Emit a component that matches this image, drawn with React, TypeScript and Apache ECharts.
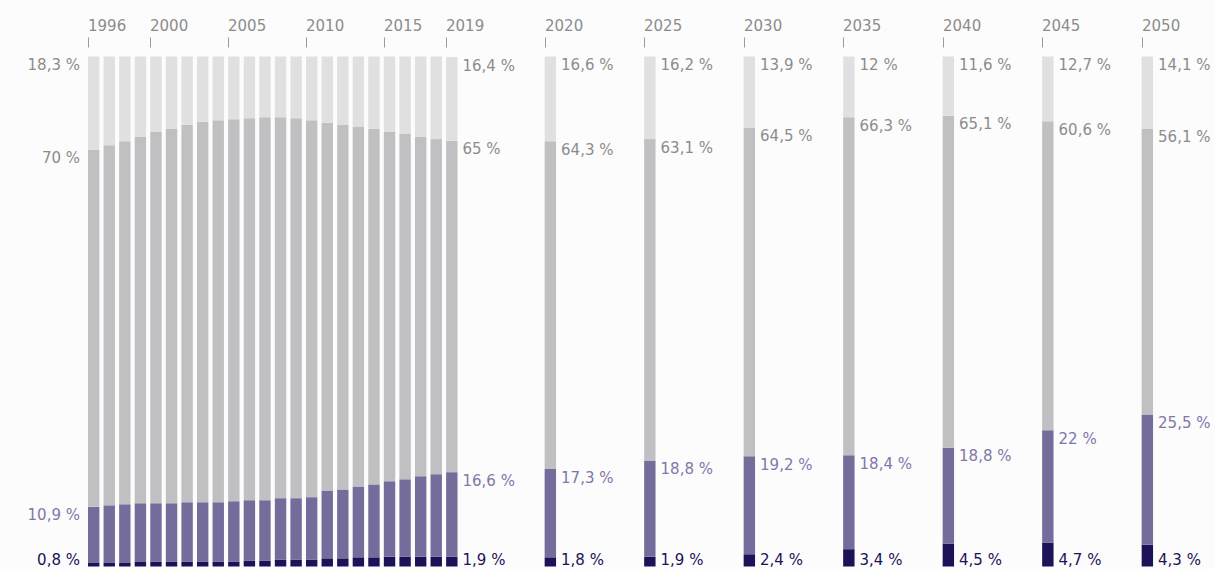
import React, { useEffect, useRef } from "react";
import * as echarts from "echarts";

const histYears = [
  "1996", "1997", "1998", "1999", "2000", "2001", "2002", "2003", "2004", "2005", "2006", "2007",
  "2008", "2009", "2010", "2011", "2012", "2013", "2014", "2015", "2016", "2017", "2018", "2019",
];
const histDark = [0.8, 0.8, 0.8, 1.0, 0.9, 0.9, 0.9, 0.9, 0.9, 0.9, 1.1, 1.1, 1.3, 1.3, 1.3, 1.6, 1.6, 1.8, 1.8, 1.9, 1.9, 1.9, 1.9, 1.9];
const histPurple = [10.9, 11.2, 11.4, 11.4, 11.5, 11.5, 11.7, 11.7, 11.7, 11.9, 11.9, 11.9, 12.1, 12.1, 12.3, 13.3, 13.5, 13.9, 14.3, 14.8, 15.2, 15.8, 16.2, 16.6];
const histGray = [70.0, 70.6, 71.2, 71.8, 72.8, 73.4, 74.0, 74.6, 74.9, 74.9, 74.9, 75.1, 74.7, 74.5, 73.9, 72.1, 71.5, 70.5, 69.7, 68.5, 67.7, 66.5, 65.7, 65.0];
const histLight = [18.3, 17.4, 16.6, 15.8, 14.8, 14.2, 13.4, 12.8, 12.5, 12.3, 12.1, 11.9, 11.9, 12.1, 12.5, 13.0, 13.4, 13.8, 14.2, 14.8, 15.2, 15.8, 16.2, 16.4];

const projYears = ["2020", "2025", "2030", "2035", "2040", "2045", "2050"];
const projDark = [1.8, 1.9, 2.4, 3.4, 4.5, 4.7, 4.3];
const projPurple = [17.3, 18.8, 19.2, 18.4, 18.8, 22, 25.5];
const projGray = [64.3, 63.1, 64.5, 66.3, 65.1, 60.6, 56.1];
const projLight = [16.6, 16.2, 13.9, 12, 11.6, 12.7, 14.1];

const histTickYears = ["1996", "2000", "2005", "2010", "2015", "2019"];

const FONT = "DejaVu Sans";
const BAR_W = 11.4;
const C_DARK = "#1c1257";
const C_PURPLE = "#746d9c";
const C_GRAY = "#c0c0c2";
const C_LIGHT = "#e0e0e0";
const T_GRAY = "#8c8c8c";
const T_PURPLE = "#7f78a8";
const T_DARK = "#1c1257";

const fmt = (v: number) => String(v).replace(".", ",") + " %";

function labelFor(side: "left" | "right", isDark: boolean, color: string) {
  return {
    show: true,
    position: side === "left" ? [0, isDark ? "100%" : 0] : ["100%", isDark ? "100%" : 0],
    align: side === "left" ? "right" : "left",
    verticalAlign: isDark ? "bottom" : "top",
    offset: [side === "left" ? -8 : 5, isDark ? 1 : 1],
    formatter: (p: any) => fmt(typeof p.value === "number" ? p.value : p.value),
    color,
    fontSize: 15,
    fontFamily: FONT,
  };
}

function mkData(values: number[], mode: "hist" | "proj", isDark: boolean, color: string) {
  return values.map((v, i) => {
    let side: "left" | "right" | null = null;
    if (mode === "proj") side = "right";
    else if (i === 0) side = "left";
    else if (i === values.length - 1) side = "right";
    if (!side) return v;
    return { value: v, label: labelFor(side, isDark, color) };
  });
}

function tickSeries(axisIdx: number, cats: string[], shown: string[]) {
  return {
    type: "custom",
    xAxisIndex: axisIdx,
    yAxisIndex: axisIdx,
    silent: true,
    clip: false,
    z: 10,
    data: shown.map((y) => [cats.indexOf(y), 100]),
    renderItem: (params: any, api: any) => {
      const idx = api.value(0);
      const p = api.coord([idx, api.value(1)]);
      const x = Math.round(p[0] - BAR_W / 2) + 0.5;
      return {
        type: "group",
        children: [
          {
            type: "line",
            shape: { x1: x, y1: p[1] - 19, x2: x, y2: p[1] - 9 },
            style: { stroke: "#9a9a9a", lineWidth: 1 },
          },
          {
            type: "text",
            x: x - 0.5,
            y: p[1] - 31,
            style: {
              text: cats[idx],
              fill: T_GRAY,
              fontSize: 15,
              fontFamily: FONT,
              align: "left",
              verticalAlign: "middle",
            },
          },
        ],
      };
    },
  };
}

function barSeries(axisIdx: number, stack: string, mode: "hist" | "proj", dark: number[], purple: number[], gray: number[], light: number[]) {
  const common = { type: "bar", xAxisIndex: axisIdx, yAxisIndex: axisIdx, stack, barWidth: BAR_W };
  return [
    { ...common, name: "dark", itemStyle: { color: C_DARK }, data: mkData(dark, mode, true, T_DARK) },
    { ...common, name: "purple", itemStyle: { color: C_PURPLE }, data: mkData(purple, mode, false, T_PURPLE) },
    { ...common, name: "gray", itemStyle: { color: C_GRAY }, data: mkData(gray, mode, false, T_GRAY) },
    { ...common, name: "light", itemStyle: { color: C_LIGHT }, data: mkData(light, mode, false, T_GRAY) },
  ];
}

export default function App() {
  const ref = useRef<HTMLDivElement>(null);
  useEffect(() => {
    if (!ref.current) return;
    const chart = echarts.init(ref.current, undefined, { renderer: "svg" });
    const option: any = {
      animation: false,
      backgroundColor: "#fcfcfc",
      grid: [
        { left: 85.9, top: 56.5, width: 373.7, height: 510 },
        { left: 500.6, top: 56.5, width: 696.5, height: 510 },
      ],
      xAxis: [
        { type: "category", gridIndex: 0, data: histYears, show: false },
        { type: "category", gridIndex: 1, data: projYears, show: false },
      ],
      yAxis: [
        { type: "value", gridIndex: 0, min: 0, max: 100, show: false },
        { type: "value", gridIndex: 1, min: 0, max: 100, show: false },
      ],
      series: [
        ...barSeries(0, "hist", "hist", histDark, histPurple, histGray, histLight),
        ...barSeries(1, "proj", "proj", projDark, projPurple, projGray, projLight),
        tickSeries(0, histYears, histTickYears),
        tickSeries(1, projYears, projYears),
      ],
    };
    chart.setOption(option);
    return () => chart.dispose();
  }, []);
  return (
    <div
      ref={ref}
      style={{ position: "absolute", left: 0, top: 0, width: 1215, height: 569 }}
    />
  );
}
